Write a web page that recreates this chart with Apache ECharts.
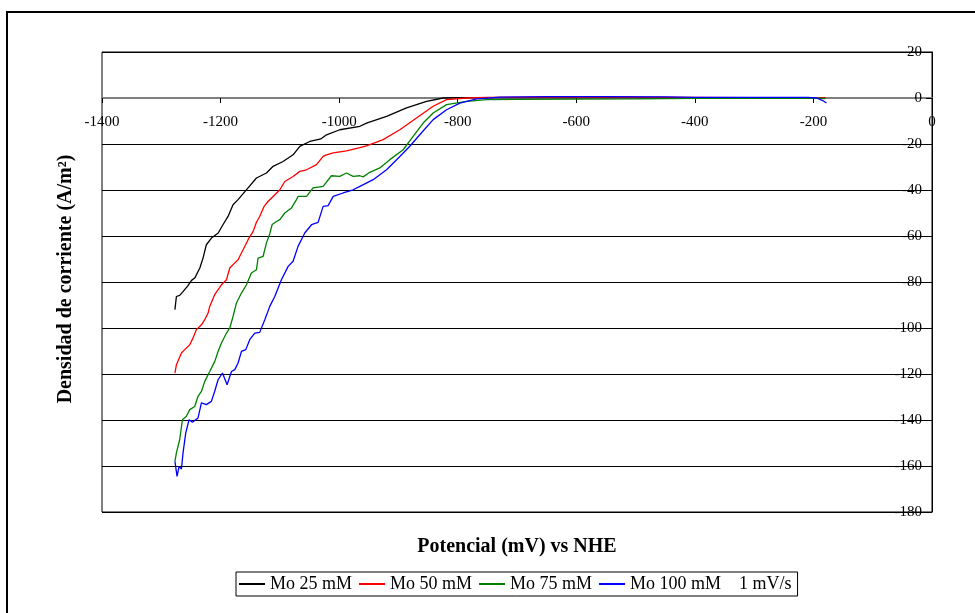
<!DOCTYPE html>
<html>
<head>
<meta charset="utf-8">
<script src="https://cdn.jsdelivr.net/npm/echarts@6/dist/echarts.min.js"></script>
<style>
html,body{margin:0;padding:0;background:#fff;}
#chart{width:975px;height:613px;}
</style>
</head>
<body>
<div id="chart"></div>
<script>
// ---- Data ----
const seriesNames = ['Mo 25 mM', 'Mo 50 mM', 'Mo 75 mM', 'Mo 100 mM'];
const extraLegendText = '1 mV/s';
const xTitle = 'Potencial (mV) vs NHE';
const yTitle = 'Densidad de corriente (A/m\u00b2)';

const mo25X = [-1277, -1274.5, -1269, -1263, -1255, -1249, -1243.6, -1235, -1229.6, -1224, -1215.4, -1204, -1196, -1187.4, -1179, -1170.5, -1153.6, -1139.5, -1122.6, -1111.4, -1094.6, -1077.7, -1066.4, -1049.5, -1031, -1021.3, -998.9, -965, -953.8, -920, -886.3, -852.6, -824.6, -796, -700, -500, -300, -200, -180];
const mo25Y = [-92.0, -86.3, -85.8, -84.1, -81.6, -79.3, -78.3, -73.9, -69.6, -63.8, -60.9, -58.7, -55.1, -51.5, -46.4, -44.2, -39.1, -34.8, -32.6, -29.7, -27.6, -24.7, -21.0, -18.9, -17.8, -16.0, -13.8, -12.3, -10.9, -8.0, -4.3, -1.5, 0, 0.2, 0.2, 0.2, 0.1, 0.1, 0];

const mo50X = [-1277, -1274.5, -1266, -1260.4, -1252, -1246.4, -1240.7, -1232.3, -1226.7, -1221, -1218.3, -1210, -1198.5, -1190, -1184.5, -1176, -1170.5, -1162, -1153.6, -1145, -1139.5, -1134, -1126.5, -1120, -1111.4, -1100, -1091.7, -1077.7, -1066.4, -1055, -1038.2, -1027, -1021.3, -1010, -987.6, -965, -953.8, -925.8, -897.6, -869.5, -841.4, -818.8, -785, -750, -650, -500, -400, -300, -200, -180];
const mo50Y = [-119.6, -116, -110.9, -109.4, -107.3, -104.3, -100.7, -98.6, -96.4, -93.5, -90.6, -85.5, -81.2, -79, -73.9, -71.7, -70.3, -66, -61.6, -58, -54, -51.5, -47.1, -45, -42.8, -39.9, -36.3, -34.1, -31.9, -31.2, -29, -25.4, -24.7, -23.9, -23.0, -21.6, -20.8, -18.1, -13.8, -8.7, -3.6, -0.7, 0, 0.3, 0.4, 0.4, 0.3, 0.2, 0.2, 0];

const mo75X = [-1277, -1274.5, -1269, -1264.3, -1257.6, -1252, -1243.6, -1238, -1232.3, -1226.7, -1218.3, -1209.8, -1204.2, -1198.5, -1190, -1184.5, -1179, -1173.2, -1164.8, -1156.3, -1148, -1139.5, -1136.7, -1128.3, -1122.6, -1117, -1113, -1105.7, -1100, -1091.7, -1080.4, -1072, -1069.3, -1055, -1044, -1027, -1013, -999, -987.6, -976.4, -965, -959.6, -948.3, -931.4, -914.5, -892, -875.2, -858.3, -841.4, -818.8, -785, -751, -700, -600, -500, -400, -300, -200, -180];
const mo75Y = [-158, -154.3, -148.6, -139.9, -138.4, -135.5, -134.1, -129.7, -127.6, -123.2, -118.9, -114.5, -110.2, -106.5, -102.2, -100, -95, -89.1, -84.8, -81.2, -76.1, -74.7, -69.6, -68.9, -63, -59, -55, -53.7, -52.9, -50, -47.8, -44.2, -42.8, -42.8, -39.1, -38.4, -33.8, -34.1, -32.6, -34.1, -33.8, -34.3, -32.3, -30.4, -26.8, -22.5, -16.7, -10.9, -6.5, -2.9, -1.5, -0.7, -0.6, -0.5, -0.4, -0.2, -0.1, 0, -0.3];

const mo100X = [-1277, -1273.4, -1270, -1266, -1263.3, -1258.8, -1253.2, -1247.5, -1238, -1232.3, -1224, -1215.5, -1210, -1204.2, -1196.8, -1189, -1181.6, -1176, -1170.5, -1164.8, -1157.5, -1150.8, -1142.3, -1134, -1125.4, -1117, -1108.6, -1097.4, -1086, -1077.7, -1069.3, -1058, -1046.6, -1035.5, -1027, -1018.6, -1010, -993.3, -976.4, -965, -942.6, -920, -897.6, -880.8, -864, -841.4, -818.8, -796.4, -768, -729, -650, -550, -450, -400, -300, -210, -195, -185, -178];
const mo100Y = [-158, -164.5, -160.2, -161.3, -154.3, -145.7, -139.9, -141, -139.1, -132.6, -133.3, -131.9, -127.6, -122.5, -119.6, -124.7, -118.9, -118.1, -115.2, -110.2, -109.4, -105.1, -102.2, -101.9, -96.4, -90.6, -86.3, -79, -73.2, -71, -64.5, -58.7, -55.1, -54.1, -47.1, -46.8, -42.8, -41.3, -39.9, -38.4, -35.5, -31.2, -25.4, -21, -16, -9.4, -5.1, -2.2, -0.4, 0.4, 0.6, 0.6, 0.5, 0.3, 0.3, 0.3, 0, -1, -2.2];

// Axis ranges / ticks
const xMin = -1400, xMax = 0, xStep = 200;
const yMin = -180, yMax = 20, yStep = 20;

// ---- Build ----
const FONT = '"Liberation Serif", "Times New Roman", serif';
function zip(xs, ys) { return xs.map((x, i) => [x, ys[i]]); }
const allX = [mo25X, mo50X, mo75X, mo100X];
const allY = [mo25Y, mo50Y, mo75Y, mo100Y];
const colors = ['#000000', '#ff0000', '#008000', '#0000ff'];

const gridTop = 52, gridBottom = 101, chartH = 613;
const plotH = chartH - gridTop - gridBottom;
// pixel distance from the top of the plot down to the y = 0 line (axis crosses at zero)
const zeroOffset = plotH * (yMax - 0) / (yMax - yMin);

const chart = echarts.init(document.getElementById('chart'), null, { renderer: 'canvas' });
chart.setOption({
  animation: false,
  backgroundColor: '#ffffff',
  grid: { left: 102, right: 43, top: gridTop, bottom: gridBottom, show: true, borderColor: '#000', borderWidth: 1 },
  xAxis: {
    type: 'value', min: xMin, max: xMax, interval: xStep,
    position: 'top', offset: -zeroOffset,
    axisLine: { show: true, onZero: false, lineStyle: { color: '#808080', width: 2 } },
    axisTick: { show: true, inside: true, length: 5, lineStyle: { color: '#000', width: 1 } },
    axisLabel: { inside: true, margin: 17, fontSize: 15, color: '#000', fontFamily: FONT, showMinLabel: true, showMaxLabel: true,
      formatter: function (v) { return String(v); } },
    splitLine: { show: false }
  },
  yAxis: {
    type: 'value', position: 'right', min: yMin, max: yMax, interval: yStep,
    axisLine: { show: true, onZero: false, lineStyle: { color: '#000', width: 1 } },
    axisTick: { show: true, inside: true, length: 6, lineStyle: { color: '#000', width: 1 } },
    axisLabel: { inside: true, margin: 10, fontSize: 15, color: '#000', fontFamily: FONT,
      formatter: function (v) { return String(v); } },
    splitLine: { show: true, lineStyle: { color: '#000', width: 1 } }
  },
  legend: {
    left: 236, top: 572,
    padding: [3, 6, 3, 3],
    borderColor: '#000', borderWidth: 1,
    itemWidth: 26, itemHeight: 2, itemGap: 7,
    icon: 'rect',
    data: seriesNames,
    formatter: function (name) { return name === seriesNames[3] ? name + '    ' + extraLegendText : name; },
    textStyle: { fontSize: 18, color: '#000', fontFamily: FONT }
  },
  series: seriesNames.map((n, i) => ({
    name: n, type: 'line', showSymbol: false, symbol: 'none',
    data: zip(allX[i], allY[i]),
    lineStyle: { color: colors[i], width: 1.3 },
    itemStyle: { color: colors[i] },
    z: 2 + i
  })),
  graphic: [
    { type: 'rect', shape: { x: 7, y: 12, width: 1000, height: 700 }, style: { fill: 'none', stroke: '#000', lineWidth: 2 }, silent: true },
    { type: 'text', x: 517, y: 547, style: { text: xTitle, font: 'bold 20px ' + FONT, fill: '#000', align: 'center', verticalAlign: 'middle', textAlign: 'center', textVerticalAlign: 'middle' } },
    { type: 'text', x: 66, y: 279, rotation: Math.PI / 2, style: { text: yTitle, font: 'bold 20px ' + FONT, fill: '#000', align: 'center', verticalAlign: 'middle', textAlign: 'center', textVerticalAlign: 'middle' } }
  ]
});
</script>
</body>
</html>
